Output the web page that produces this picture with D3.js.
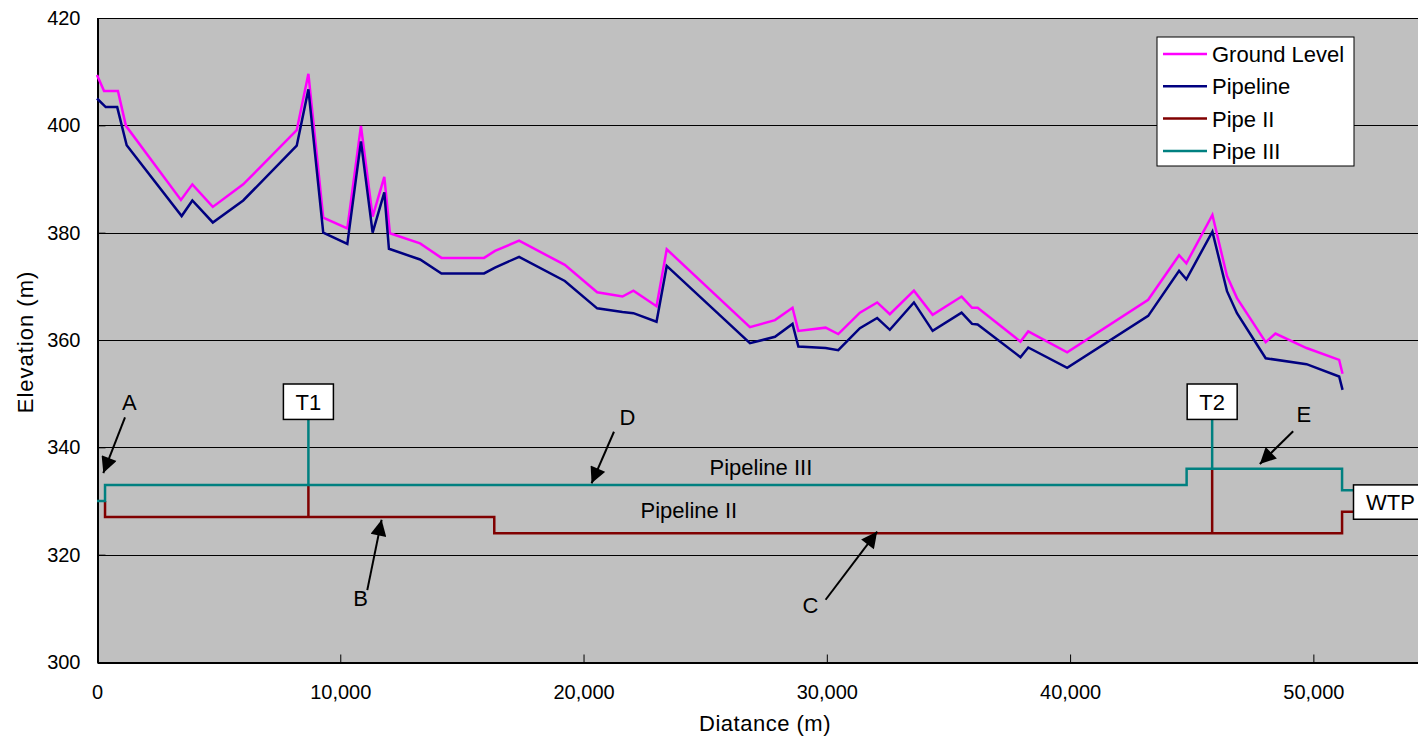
<!DOCTYPE html>
<html>
<head>
<meta charset="utf-8">
<script src="https://cdn.jsdelivr.net/npm/d3@7"></script>
<style>
  html, body { margin: 0; padding: 0; background: #fff; overflow: hidden; }
  text { font-family: "Liberation Sans", Arial, sans-serif; fill: #000; }
</style>
</head>
<body>
<div id="chart"></div>
<script>
// Set up dimensions
const width = 1418,
    height = 745;

// Ground level profile (distance m, elevation m)
const groundDist = [0, 290, 860, 1190, 3450, 3920, 4760, 6010, 8210, 8690, 9300, 10290, 10850, 11330, 11810, 12040, 13280, 14160, 15910, 16360, 17350, 19230, 20560, 21600, 22050, 23000, 23420, 26840, 27870, 28590, 28830, 29950, 30470, 31360, 32070, 32590, 33580, 34350, 35540, 35970, 36200, 37960, 38280, 39880, 43210, 44480, 44780, 45850, 46450, 46860, 48040, 48440, 49720, 51060, 51200];
const groundElev = [409.4, 406.4, 406.4, 399.9, 386.1, 389.0, 384.8, 389.0, 399.1, 409.6, 382.8, 380.8, 399.9, 383.0, 390.4, 379.9, 378.0, 375.3, 375.3, 376.6, 378.5, 374.0, 368.9, 368.1, 369.2, 366.3, 376.9, 362.4, 363.7, 366.0, 361.7, 362.3, 361.1, 365.1, 367.0, 364.8, 369.2, 364.7, 368.1, 366.0, 366.0, 359.7, 361.6, 357.7, 367.5, 375.8, 374.3, 383.3, 371.9, 367.8, 359.6, 361.2, 358.5, 356.3, 353.7];

// Pipeline profile
const pipeDist = [0, 360, 830, 1220, 3480, 3920, 4760, 6010, 8210, 8690, 9300, 10290, 10850, 11330, 11810, 12000, 13280, 14160, 15910, 16360, 17350, 19230, 20560, 21600, 22050, 23000, 23420, 26840, 27870, 28590, 28830, 29950, 30470, 31360, 32070, 32590, 33580, 34350, 35540, 35970, 36200, 37960, 38280, 39880, 43210, 44480, 44780, 45850, 46450, 46860, 48040, 49720, 51060, 51200];
const pipeElev = [405.0, 403.4, 403.4, 396.3, 383.1, 386.0, 381.9, 386.0, 396.2, 406.7, 380.0, 377.9, 397.0, 380.0, 387.5, 377.0, 375.0, 372.4, 372.4, 373.5, 375.5, 371.0, 365.9, 365.2, 365.0, 363.4, 373.8, 359.4, 360.6, 363.0, 358.8, 358.5, 358.1, 362.2, 364.1, 361.9, 367.0, 361.7, 365.1, 363.0, 362.9, 356.8, 358.6, 354.8, 364.5, 372.9, 371.3, 380.2, 369.1, 365.0, 356.6, 355.5, 353.2, 350.7];

// Pipe II (stepped)
const pipeIIDist = [330, 330, 16330, 16330, 51180, 51180, 51650];
const pipeIIElev = [330, 327, 327, 324, 324, 328, 328];

// Pipe III (stepped)
const pipeIIIDist = [0, 330, 330, 44790, 44790, 51180, 51180, 51650];
const pipeIIIElev = [330, 330, 333, 333, 336, 336, 332, 332];

// Tanks: name, distance, pipe II level, pipe III level, box bottom, box top
const tankNames = ["T1", "T2"];
const tankDist = [8690, 45840];
const tankPipeII = [327, 324];
const tankPipeIII = [333, 336];
const tankBoxBottom = [345.2, 345.2];
const tankBoxTop = [351.8, 351.8];

// Treatment plant box
const wtpLabel = "WTP";
const wtpDist = 51650;
const wtpBox = [326.6, 333.0];

// Arrow annotations
const noteLabels = ["A", "B", "C", "D", "E"];
const noteLabelPos = [[1328, 348.5], [10840, 311.9], [29330, 310.6], [21800, 345.7], [49610, 346.3]];
const noteTail = [[1151, 345.6], [11110, 313.4], [29950, 311.6], [21250, 342.9], [49170, 343.0]];
const noteTip = [[259, 335.2], [11700, 326.5], [32070, 324.3], [20330, 333.3], [47800, 336.9]];

// Line labels
const lineLabels = ["Pipeline III", "Pipeline II"];
const lineLabelPos = [[27290, 336.4], [24330, 328.3]];

// Axes
const xTicks = [0, 10000, 20000, 30000, 40000, 50000];
const yTicks = [300, 320, 340, 360, 380, 400, 420];

// Legend
const legendNames = ["Ground Level", "Pipeline", "Pipe II", "Pipe III"];
const legendColors = ["#FF00FF", "#000080", "#800000", "#008080"];

// Scales
const x = d3.scaleLinear().domain([0, 55000]).range([97, 1435]);
const y = d3.scaleLinear().domain([300, 420]).range([662, 18]);

const svg = d3.select("#chart")
    .append("svg")
    .attr("width", width)
    .attr("height", height);

svg.append("defs").append("marker")
    .attr("id", "arrow")
    .attr("viewBox", "0 0 10 10")
    .attr("refX", 10)
    .attr("refY", 5)
    .attr("markerWidth", 9)
    .attr("markerHeight", 8)
    .attr("markerUnits", "strokeWidth")
    .attr("orient", "auto")
    .append("path")
    .attr("d", "M0,0 L10,5 L0,10 Z")
    .attr("fill", "#000");

// Plot area
svg.append("rect")
    .attr("x", x(0))
    .attr("y", y(420))
    .attr("width", x(55000) - x(0))
    .attr("height", y(300) - y(420))
    .attr("fill", "#C0C0C0");

// Gridlines
svg.selectAll(".grid")
    .data(yTicks.filter(d => d > 300))
    .enter()
    .append("line")
    .attr("x1", x(0))
    .attr("x2", x(55000))
    .attr("y1", d => Math.round(y(d)) + 0.5)
    .attr("y2", d => Math.round(y(d)) + 0.5)
    .attr("stroke", "#000")
    .attr("stroke-width", 1);

// Axes
const xAxis = svg.append("g")
    .attr("transform", `translate(0,${Math.round(y(300)) + 0.5})`)
    .call(d3.axisBottom(x).tickValues(xTicks).tickSizeInner(-8).tickSizeOuter(0).tickPadding(22)
        .tickFormat(d3.format(",")));
xAxis.select(".domain").attr("stroke", "#000").attr("stroke-width", 2);
xAxis.selectAll("text").style("font-size", "20px").attr("fill", "#000");

const yAxis = svg.append("g")
    .attr("transform", `translate(${Math.round(x(0)) + 0.5},0)`)
    .call(d3.axisLeft(y).tickValues(yTicks).tickSizeInner(-8).tickSizeOuter(0).tickPadding(17));
yAxis.select(".domain").attr("stroke", "#000").attr("stroke-width", 2);
yAxis.selectAll("text").style("font-size", "20px").attr("fill", "#000");

// Axis titles
svg.append("text")
    .attr("x", 765)
    .attr("y", 731)
    .attr("text-anchor", "middle")
    .style("font-size", "22px")
    .style("letter-spacing", "0.5px")
    .text("Diatance (m)");

svg.append("text")
    .attr("transform", "translate(33,342) rotate(-90)")
    .attr("text-anchor", "middle")
    .style("font-size", "22px")
    .style("letter-spacing", "1px")
    .text("Elevation (m)");

// Line generator
const line = d3.line().x(d => x(d[0])).y(d => y(d[1]));

function zip(a, b) { return a.map((v, i) => [v, b[i]]); }

// Tank risers
tankDist.forEach((d, i) => {
    svg.append("path")
        .attr("d", line([[d, tankPipeII[i]], [d, tankPipeIII[i]]]))
        .attr("fill", "none").attr("stroke", "#800000").attr("stroke-width", 2.5);
    svg.append("path")
        .attr("d", line([[d, tankPipeIII[i]], [d, tankBoxBottom[i]]]))
        .attr("fill", "none").attr("stroke", "#008080").attr("stroke-width", 2.5);
});

svg.append("path")
    .attr("d", line(zip(pipeIIDist, pipeIIElev)))
    .attr("fill", "none").attr("stroke", "#800000").attr("stroke-width", 2.5);

svg.append("path")
    .attr("d", line(zip(pipeIIIDist, pipeIIIElev)))
    .attr("fill", "none").attr("stroke", "#008080").attr("stroke-width", 2.5);

svg.append("path")
    .attr("d", line(zip(groundDist, groundElev)))
    .attr("fill", "none").attr("stroke", "#FF00FF").attr("stroke-width", 2.5);

svg.append("path")
    .attr("d", line(zip(pipeDist, pipeElev)))
    .attr("fill", "none").attr("stroke", "#000080").attr("stroke-width", 2.5);

// Tank boxes
tankNames.forEach((name, i) => {
    const cx = x(tankDist[i]);
    const top = y(tankBoxTop[i]), bottom = y(tankBoxBottom[i]);
    svg.append("rect")
        .attr("x", cx - 25).attr("y", top)
        .attr("width", 50).attr("height", bottom - top)
        .attr("fill", "#fff").attr("stroke", "#000").attr("stroke-width", 1.5);
    svg.append("text")
        .attr("x", cx).attr("y", (top + bottom) / 2 + 8)
        .attr("text-anchor", "middle")
        .style("font-size", "22px")
        .text(name);
});

// WTP box
{
    const left = x(wtpDist), top = y(wtpBox[1]), bottom = y(wtpBox[0]);
    svg.append("rect")
        .attr("x", left).attr("y", top)
        .attr("width", 76).attr("height", bottom - top)
        .attr("fill", "#fff").attr("stroke", "#000").attr("stroke-width", 1.5);
    svg.append("text")
        .attr("x", left + 37).attr("y", (top + bottom) / 2 + 8)
        .attr("text-anchor", "middle")
        .style("font-size", "22px")
        .text(wtpLabel);
}

// Line labels
lineLabels.forEach((t, i) => {
    svg.append("text")
        .attr("x", x(lineLabelPos[i][0]))
        .attr("y", y(lineLabelPos[i][1]) + 8)
        .attr("text-anchor", "middle")
        .style("font-size", "22px")
        .attr("fill", "#111")
        .text(t);
});

// Arrow annotations
noteLabels.forEach((t, i) => {
    svg.append("line")
        .attr("x1", x(noteTail[i][0])).attr("y1", y(noteTail[i][1]))
        .attr("x2", x(noteTip[i][0])).attr("y2", y(noteTip[i][1]))
        .attr("stroke", "#000").attr("stroke-width", 2)
        .attr("marker-end", "url(#arrow)");
    svg.append("text")
        .attr("x", x(noteLabelPos[i][0]))
        .attr("y", y(noteLabelPos[i][1]) + 8)
        .attr("text-anchor", "middle")
        .style("font-size", "22px")
        .text(t);
});

// Legend
const legend = svg.append("g").attr("transform", "translate(1157,37)");
legend.append("rect")
    .attr("width", 197).attr("height", 129)
    .attr("fill", "#fff").attr("stroke", "#000").attr("stroke-width", 1);
legendNames.forEach((name, i) => {
    const cy = 17 + i * 32.3;
    legend.append("line")
        .attr("x1", 6).attr("x2", 50)
        .attr("y1", cy).attr("y2", cy)
        .attr("stroke", legendColors[i]).attr("stroke-width", 2.5);
    legend.append("text")
        .attr("x", 55).attr("y", cy + 8)
        .style("font-size", "22px")
        .text(name);
});
</script>
</body>
</html>
